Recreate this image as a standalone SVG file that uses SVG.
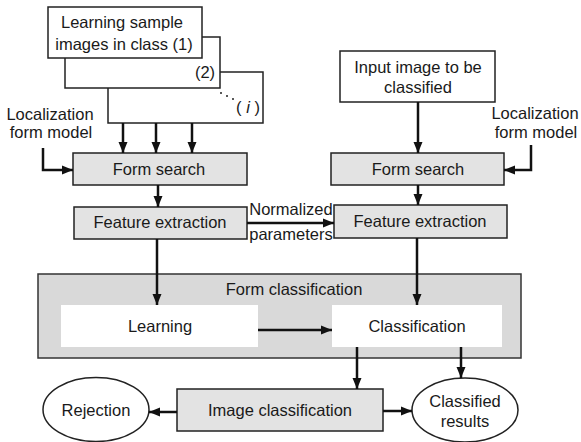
<svg xmlns="http://www.w3.org/2000/svg" width="581" height="442" viewBox="0 0 581 442">
<defs>
<style>
text{font-family:"Liberation Sans",Arial,sans-serif;font-size:16.5px;fill:#1a1a1a;text-anchor:middle}
.w{fill:#fff;stroke:#222;stroke-width:1.5}
.g{fill:#e3e3e3;stroke:#222;stroke-width:1.5}
.outer{fill:#d9d9d9;stroke:#333;stroke-width:1.5}
.in{fill:#fff}
.c{fill:none;stroke:#111;stroke-width:2.5;marker-end:url(#ah)}
</style>
<marker id="ah" markerUnits="userSpaceOnUse" markerWidth="11" markerHeight="10" refX="11" refY="5" orient="auto">
<path d="M0,0.5 L11,5 L0,9.5 z" fill="#111"/>
</marker>
</defs>
<rect width="581" height="442" fill="#fff"/>

<g id="samples">
<rect class="w" x="108" y="72" width="155" height="51"/>
<rect class="w" x="65" y="37" width="155" height="51"/>
<rect class="w" x="48" y="7" width="154" height="51"/>
<text x="122" y="28">Learning sample</text>
<text x="124" y="50">images in class (1)</text>
<text x="205" y="78">(2)</text>
<circle cx="221" cy="93" r="1" fill="#222"/>
<circle cx="227" cy="96" r="1" fill="#222"/>
<circle cx="233" cy="99" r="1" fill="#222"/>
<text x="248" y="113">( <tspan font-style="italic">i</tspan> )</text>
</g>

<g id="loc-left">
<text x="50" y="120">Localization</text>
<text x="51" y="138">form model</text>
</g>

<g id="input">
<rect class="w" x="340" y="51" width="155" height="51"/>
<text x="418" y="73">Input image to be</text>
<text x="418" y="93">classified</text>
</g>

<g id="loc-right">
<text x="535" y="119">Localization</text>
<text x="536" y="138">form model</text>
</g>

<g id="fs-left">
<rect class="g" x="73" y="153" width="174" height="32"/>
<text x="159" y="175">Form search</text>
</g>

<g id="fs-right">
<rect class="g" x="331" y="153" width="173" height="32"/>
<text x="418" y="175">Form search</text>
</g>

<g id="fe-left">
<rect class="g" x="74" y="207" width="173" height="32"/>
<text x="160" y="228">Feature extraction</text>
</g>

<g id="fe-right">
<rect class="g" x="334" y="205" width="173" height="33"/>
<text x="420" y="227">Feature extraction</text>
</g>

<g id="norm-label">
<text x="291" y="215">Normalized</text>
<text x="291" y="240">parameters</text>
</g>

<g id="form-classification">
<rect class="outer" x="38" y="274" width="483" height="84"/>
<text x="294" y="295">Form classification</text>
</g>

<g id="learning">
<rect class="in" x="61" y="305" width="197" height="42"/>
<text x="160" y="332">Learning</text>
</g>

<g id="classification">
<rect class="in" x="332" y="305" width="170" height="42"/>
<text x="417" y="332">Classification</text>
</g>

<g id="image-classification">
<rect class="g" x="177" y="389" width="206" height="42"/>
<text x="280" y="416">Image classification</text>
</g>

<g id="rejection">
<ellipse class="w" cx="96" cy="409.5" rx="53" ry="32"/>
<text x="96" y="416">Rejection</text>
</g>

<g id="classified-results">
<ellipse class="w" cx="465" cy="410" rx="53" ry="32"/>
<text x="465" y="407">Classified</text>
<text x="465" y="427">results</text>
</g>

<g id="connectors">
<path class="c" d="M123,123 V153"/>
<path class="c" d="M156,123 V153"/>
<path class="c" d="M192,123 V153"/>
<path class="c" d="M43,148 V170 H73"/>
<path class="c" d="M158,185 V207"/>
<path class="c" d="M157,239 V305"/>
<path class="c" d="M247,223 H334"/>
<path class="c" d="M418,102 V153"/>
<path class="c" d="M531,145 V170 H504"/>
<path class="c" d="M418,185 V205"/>
<path class="c" d="M417,238 V305"/>
<path class="c" d="M258,330 H332"/>
<path class="c" d="M357,347 V389"/>
<path class="c" d="M461,347 V378"/>
<path class="c" d="M177,412 H149"/>
<path class="c" d="M383,411 H412"/>
</g>
</svg>
